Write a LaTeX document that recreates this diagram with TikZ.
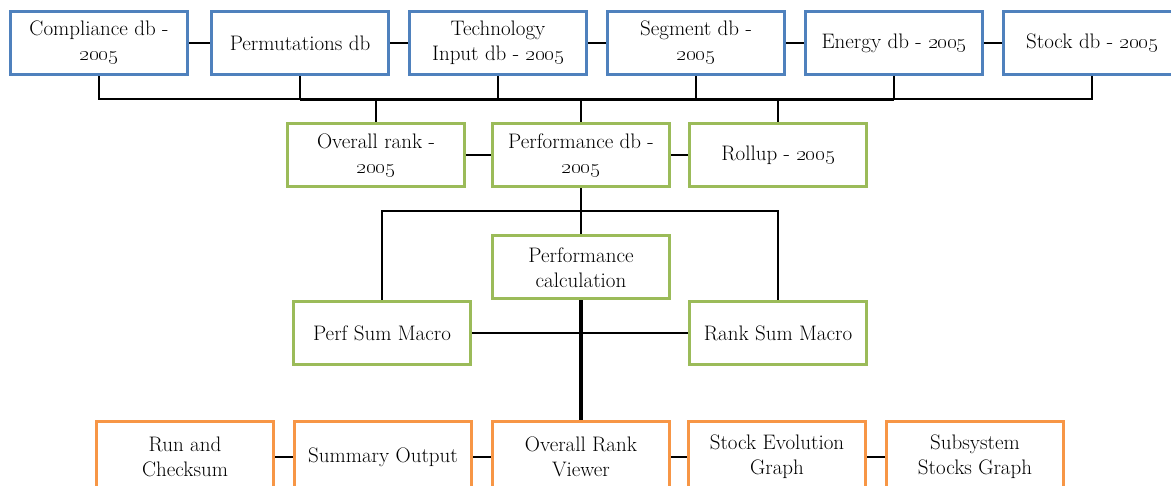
\documentclass[tikz,border=0pt]{standalone}
\usetikzlibrary{positioning,calc}
\definecolor{dbblue}{RGB}{79,129,189}
\definecolor{rankgreen}{RGB}{155,187,89}
\definecolor{outorange}{RGB}{247,150,70}
\newcommand{\yr}{\oldstylenums{2005}}
\tikzset{
  box/.style={draw, line width=3pt, minimum width=177pt, minimum height=63pt, inner sep=2pt, align=center, font=\fontsize{21}{25}\selectfont},
  dbbox/.style={box, draw=dbblue},
  rankbox/.style={box, draw=rankgreen},
  outbox/.style={box, draw=outorange, minimum height=70pt},
  link/.style={line width=2pt},
}
\begin{document}
\begin{tikzpicture}[x=1pt, y=-1pt, node distance=18pt]
	\useasboundingbox (0,0) rectangle (1171,486);
	% input databases
	\node[dbbox] (comp) at (99,43) {Compliance db -\\ \yr};
	\node[dbbox, right=21pt of comp] (perm) {Permutations db};
	\node[dbbox, right=of perm] (tech) {Technology\\ Input db - \yr};
	\node[dbbox, right=of tech] (seg) {Segment db -\\ \yr};
	\node[dbbox, right=of seg] (energy) {Energy db - \yr};
	\node[dbbox, right=of energy] (stock) {Stock db - \yr};
	% ranking
	\node[rankbox] (perfdb) at (581,155.5) {Performance db -\\ \yr};
	\node[rankbox, left=25pt of perfdb] (ovr) {Overall rank -\\ \yr};
	\node[rankbox, right=17pt of perfdb] (roll) {Rollup - \yr};
	\node[rankbox, below=46pt of perfdb] (calc) {Performance\\ calculation};
	\node[rankbox] (perfsum) at (382,333) {Perf Sum Macro};
	\node[rankbox] (ranksum) at (roll |- perfsum) {Rank Sum Macro};
	% outputs
	\node[outbox] (viewer) at (581,457) {Overall Rank\\ Viewer};
	\node[outbox, left=of viewer] (summ) {Summary Output};
	\node[outbox, left=of summ] (runck) {Run and\\ Checksum};
	\node[outbox, right=16pt of viewer] (stockevo) {Stock Evolution\\ Graph};
	\node[outbox, right=of stockevo] (subsys) {Subsystem\\ Stocks Graph};

	\coordinate (bus) at ($(tech.south)!0.5!(perfdb.north)$);
	\coordinate (split) at ($(perfdb.south)!0.5!(calc.north)$);

	\foreach \a/\b in {comp/perm, perm/tech, tech/seg, seg/energy, energy/stock, ovr/perfdb, perfdb/roll, runck/summ, summ/viewer, viewer/stockevo, stockevo/subsys}
		\draw[link] (\a.east) -- (\b.west);
	\draw[link] (comp.south) -- (bus -| comp.south) -- (bus -| stock.south) -- (stock.south);
	\draw[line width=3pt] (bus -| perm.south) -- (bus -| energy.south);
	\foreach \n in {perm, tech, seg, energy}
		\draw[link] (\n.south) -- (bus -| \n.south);
	\foreach \n in {ovr, perfdb, roll}
		\draw[link] (bus -| \n.north) -- (\n.north);
	\draw[link] (perfdb.south) -- (calc.north);
	\draw[link] (perfsum.north) |- (split) -| (ranksum.north);
	\draw[link] (perfsum.east) -- (ranksum.west);
	\draw[line width=4pt] (calc.south) -- (viewer.north);
\end{tikzpicture}
\end{document}
